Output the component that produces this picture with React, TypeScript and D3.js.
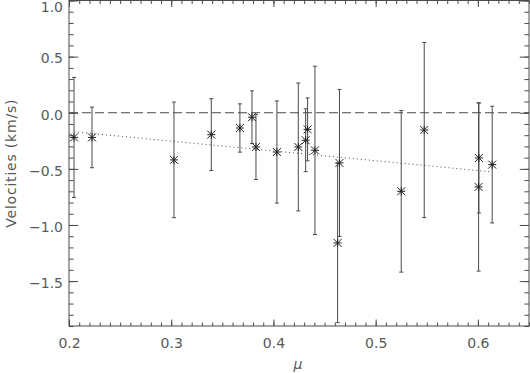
import React, { useEffect, useRef } from 'react';
import * as d3 from 'd3';

// limb-angle (mu) vs. velocity, symmetric error bars
const muValues = [0.2049, 0.2225, 0.3027, 0.3392, 0.3672, 0.379, 0.3829, 0.4034, 0.4243, 0.4315, 0.4334, 0.4406, 0.4628, 0.4646, 0.525, 0.5475, 0.601, 0.6007, 0.614];
const velocities = [-0.22, -0.22, -0.42, -0.195, -0.136, -0.04, -0.305, -0.35, -0.305, -0.245, -0.148, -0.335, -1.16, -0.447, -0.7, -0.154, -0.403, -0.661, -0.462];
const velocityErrors = [0.535, 0.27, 0.515, 0.32, 0.215, 0.235, 0.29, 0.455, 0.57, 0.28, 0.28, 0.75, 0.71, 0.655, 0.72, 0.78, 0.49, 0.75, 0.52];

// linear fit (dotted)
const fitMu = [0.205, 0.6125];
const fitVel = [-0.17, -0.526];

const xMajorTicks = [0.2, 0.3, 0.4, 0.5, 0.6];
const yMajorTicks = [-1.5, -1.0, -0.5, 0.0, 0.5, 1.0];

const width = 530;
const height = 373;
const margin = { left: 69, right: 1, top: 0.5, bottom: 47 };
const ink = '#4a4a4a';
const textInk = '#5a5a5a';

const App = () => {
  const chartRef = useRef(null);

  useEffect(() => {
    const svg = d3.select(chartRef.current);
    svg.selectAll('*').remove();

    const xScale = d3.scaleLinear().domain([0.2, 0.65]).range([margin.left, width - margin.right]);
    const yScale = d3.scaleLinear().domain([-1.9, 1.0]).range([height - margin.bottom, margin.top]);

    const xMinor = d3.range(20, 66).map(d => d / 100);
    const yMinor = d3.range(-19, 11).map(d => d / 10);

    const bottom = height - margin.bottom;
    const right = width - margin.right;
    const fmt = d3.format('.1f');

    // axes
    const addAxis = (axis, transform, labels) => {
      const g = svg.append('g')
        .attr('transform', transform)
        .call(axis)
        .call(g => g.select('.domain').remove());
      g.selectAll('line').attr('stroke', ink);
      g.selectAll('text')
        .attr('fill', textInk)
        .style('font-family', '"DejaVu Sans", sans-serif')
        .style('font-size', '14px');
      if (!labels) g.selectAll('text').remove();
      return g;
    };

    addAxis(d3.axisBottom(xScale).tickValues(xMinor).tickSizeInner(-3.5).tickSizeOuter(0).tickFormat(() => ''), `translate(0,${bottom})`, false);
    addAxis(d3.axisBottom(xScale).tickValues(xMajorTicks).tickSizeInner(-6.5).tickSizeOuter(0).tickPadding(12).tickFormat(fmt), `translate(0,${bottom})`, true);
    addAxis(d3.axisTop(xScale).tickValues(xMinor).tickSizeInner(-3.5).tickSizeOuter(0), `translate(0,${margin.top})`, false);
    addAxis(d3.axisTop(xScale).tickValues(xMajorTicks).tickSizeInner(-6.5).tickSizeOuter(0), `translate(0,${margin.top})`, false);

    addAxis(d3.axisLeft(yScale).tickValues(yMinor).tickSizeInner(-4.6).tickSizeOuter(0).tickFormat(() => ''), `translate(${margin.left},0)`, false);
    const left = addAxis(d3.axisLeft(yScale).tickValues(yMajorTicks).tickSizeInner(-9.2).tickSizeOuter(0).tickPadding(6).tickFormat(fmt), `translate(${margin.left},0)`, true);
    // top label sits against the edge of the page
    left.selectAll('text').attr('dy', d => (d === 1.0 ? '0.82em' : '0.45em'));
    addAxis(d3.axisRight(yScale).tickValues(yMinor).tickSizeInner(-4.6).tickSizeOuter(0), `translate(${right},0)`, false);
    addAxis(d3.axisRight(yScale).tickValues(yMajorTicks).tickSizeInner(-9.2).tickSizeOuter(0), `translate(${right},0)`, false);

    // frame
    svg.append('rect')
      .attr('x', margin.left)
      .attr('y', margin.top)
      .attr('width', right - margin.left)
      .attr('height', bottom - margin.top)
      .attr('fill', 'none')
      .attr('stroke', ink);

    // zero line
    svg.append('line')
      .attr('x1', margin.left).attr('x2', right)
      .attr('y1', yScale(0)).attr('y2', yScale(0))
      .attr('stroke', ink)
      .attr('stroke-dasharray', '9,4');

    // fit
    const fitLine = d3.line().x(d => xScale(d[0])).y(d => yScale(d[1]));
    svg.append('path')
      .datum(fitMu.map((m, i) => [m, fitVel[i]]))
      .attr('d', fitLine)
      .attr('fill', 'none')
      .attr('stroke', ink)
      .attr('stroke-dasharray', '1,3');

    const points = muValues.map((m, i) => ({ mu: m, v: velocities[i], err: velocityErrors[i] }));

    // error bars
    const bars = svg.append('g').attr('stroke', ink).attr('fill', 'none');
    points.forEach(p => {
      const px = xScale(p.mu);
      const top = yScale(p.v + p.err);
      const bot = yScale(p.v - p.err);
      bars.append('line').attr('x1', px).attr('x2', px).attr('y1', top).attr('y2', bot);
      bars.append('line').attr('x1', px - 2).attr('x2', px + 2).attr('y1', top).attr('y2', top);
      bars.append('line').attr('x1', px - 2).attr('x2', px + 2).attr('y1', bot).attr('y2', bot);
    });

    // asterisk markers
    const marks = svg.append('g').attr('stroke', '#222').attr('stroke-width', 1);
    points.forEach(p => {
      const px = xScale(p.mu);
      const py = yScale(p.v);
      const s = 4;
      marks.append('path')
        .attr('d', `M${px - s},${py - s}L${px + s},${py + s}M${px - s},${py + s}L${px + s},${py - s}M${px - s},${py}L${px + s},${py}M${px},${py - s}L${px},${py + s}`);
    });

    // titles
    svg.append('text')
      .attr('x', (margin.left + right) / 2 - 1)
      .attr('y', 368.5)
      .attr('text-anchor', 'middle')
      .attr('fill', textInk)
      .style('font-family', '"DejaVu Sans", sans-serif')
      .style('font-size', '14px')
      .style('font-style', 'italic')
      .text('μ');

    svg.append('text')
      .attr('transform', `translate(16,${(margin.top + bottom) / 2}) rotate(-90)`)
      .attr('text-anchor', 'middle')
      .attr('fill', textInk)
      .style('font-family', '"DejaVu Sans", sans-serif')
      .style('font-size', '14px')
      .style('letter-spacing', '0.8px')
      .text('Velocities (km/s)');
  });

  return (
    <svg
      ref={chartRef}
      width={width}
      height={height}
      viewBox={`0 0 ${width} ${height}`}
      style={{ position: 'absolute', left: 0, top: 0, background: '#fff' }}
    />
  );
};

export default App;
